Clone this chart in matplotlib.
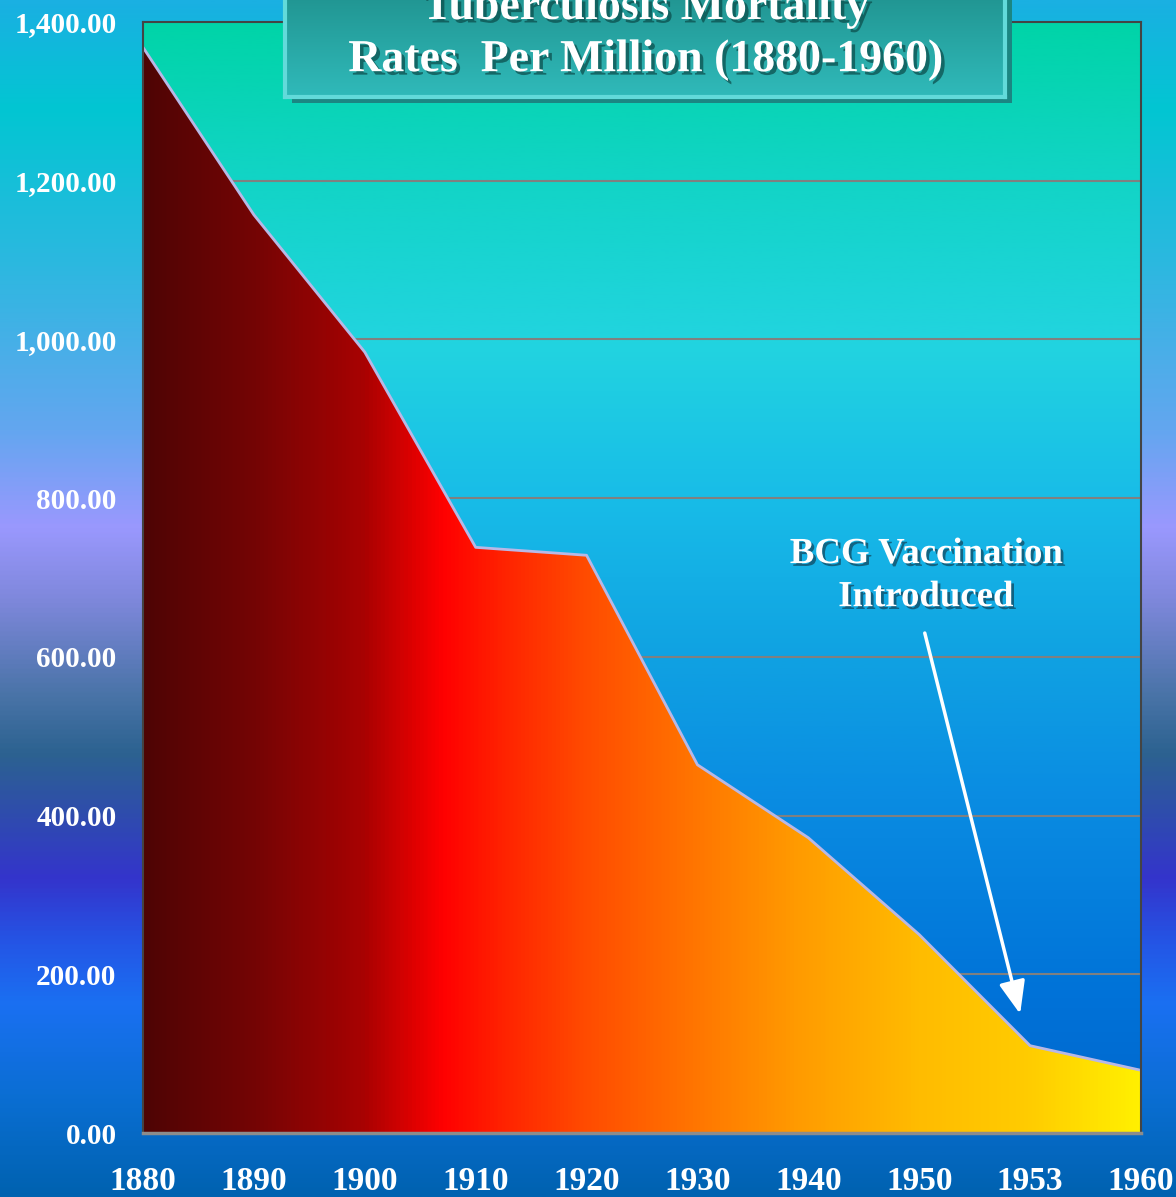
import numpy as np
import matplotlib
matplotlib.use("Agg")
import matplotlib.pyplot as plt
from matplotlib.colors import LinearSegmentedColormap
import matplotlib.patheffects as pe

years = ['1880', '1890', '1900', '1910', '1920', '1930', '1940', '1950', '1953', '1960']
rates = [1368, 1157, 984, 738, 728, 464, 372, 250, 110, 79]
yticks = [0, 200, 400, 600, 800, 1000, 1200, 1400]
title_lines = ["Tuberculosis Mortality", "Rates  Per Million (1880-1960)"]
note = "BCG Vaccination\nIntroduced"

W, H = 1176, 1197
fig = plt.figure(figsize=(W / 100, H / 100), dpi=100)
serif = ['Liberation Serif', 'DejaVu Serif']

# figure background gradient (vertical)
bg = fig.add_axes([0, 0, 1, 1], zorder=-10)
bg.axis('off')
bg_stops = [(0.0, '#1ab0e2'), (0.09, '#02c6d2'), (0.22, '#2cb8e0'), (0.36, '#64a6f0'),
            (0.44, '#9a98fe'), (0.50, '#7f88dc'), (0.58, '#4a74a8'), (0.63, '#2c6290'),
            (0.70, '#3044b8'), (0.735, '#3434cc'), (0.79, '#2456e6'), (0.84, '#1a70f2'),
            (0.92, '#0a6ed2'), (1.0, '#0062b0')]
cm_bg = LinearSegmentedColormap.from_list('bg', bg_stops)
grad = np.linspace(0, 1, 512).reshape(-1, 1)
bg.imshow(grad, aspect='auto', cmap=cm_bg, extent=(0, 1, 0, 1), origin='upper')
bg.set_xlim(0, 1); bg.set_ylim(0, 1)

# main axes
x0, x1 = 143 / W, 1141 / W
y0, y1 = 1 - 1133 / H, 1 - 22 / H
ax = fig.add_axes([x0, y0, x1 - x0, y1 - y0])
xs = np.arange(len(years))
ax.set_xlim(0, len(years) - 1)
ax.set_ylim(0, 1400)

plot_stops = [(0.0, '#00d4a8'), (0.14, '#12d4c6'), (0.29, '#22d4e0'), (0.43, '#18bce8'),
              (0.57, '#10a2e2'), (0.70, '#0a8ce2'), (0.88, '#0072d8'), (1.0, '#0066cc')]
cm_plot = LinearSegmentedColormap.from_list('pl', plot_stops)
ax.imshow(grad, aspect='auto', cmap=cm_plot, extent=(0, len(years) - 1, 0, 1400),
          origin='upper', zorder=0)

for yv in yticks[1:-1]:
    ax.axhline(yv, color='#808080', lw=1.5, zorder=1)

poly = ax.fill_between(xs, rates, 0, color='none', zorder=2)
area_stops = [(0.0, '#4e0404'), (0.11, '#740505'), (0.22, '#a80202'), (0.30, '#ff0000'),
              (0.36, '#ff2200'), (0.44, '#ff4a00'), (0.55, '#ff7400'), (0.66, '#ff9c00'),
              (0.78, '#ffbc00'), (0.89, '#ffcc00'), (1.0, '#fff000')]
cm_area = LinearSegmentedColormap.from_list('ar', area_stops)
hgrad = np.linspace(0, 1, 1024).reshape(1, -1)
im = ax.imshow(hgrad, aspect='auto', cmap=cm_area, extent=(0, len(years) - 1, 0, 1400),
               origin='lower', zorder=2)
im.set_clip_path(poly.get_paths()[0], transform=ax.transData)
ax.plot(xs, rates, color='#b8b8e6', lw=2, zorder=3, solid_joinstyle='round')

ax.set_xticks(xs)
ax.set_xticklabels(years)
ax.set_yticks(yticks)
ax.set_yticklabels([f"{v:,.2f}" for v in yticks])
ax.tick_params(axis='y', length=0, pad=19, labelsize=21, labelcolor='white')
ax.tick_params(axis='x', length=0, pad=24, labelsize=24, labelcolor='white')
for lab in ax.get_xticklabels() + ax.get_yticklabels():
    lab.set_fontfamily(serif)
    lab.set_fontweight('bold')

for s in ['left', 'top', 'right']:
    ax.spines[s].set_color('#444444')
    ax.spines[s].set_linewidth(1.5)
ax.spines['bottom'].set_color('#8c8c8c')
ax.spines['bottom'].set_linewidth(2.5)
for s in ax.spines.values():
    s.set_zorder(5)

shadow = [pe.withSimplePatchShadow(offset=(2, -2), shadow_rgbFace='#103040', alpha=0.6)]

# annotation
ax.text(7.06, 703, note, ha='center', va='center', color='white', fontsize=26.5,
        fontweight='bold', family=serif, linespacing=1.3, zorder=6, path_effects=shadow)
ax.annotate('', xy=(7.91, 150), xytext=(7.05, 630),
            arrowprops=dict(arrowstyle='-|>,head_length=1.0,head_width=0.4', color='white',
                            lw=2.5, shrinkA=0, shrinkB=0, mutation_scale=20), zorder=6)

# title box
bx0, bx1 = 285 / W, 1005 / W
by0, by1 = 1 - 97 / H, 1.02
sh = fig.add_axes([bx0 + 7 / W, by0 - 6 / H, bx1 - bx0, by1 - by0], zorder=8)
sh.set_facecolor('#1b8682')
sh.set_xticks([]); sh.set_yticks([])
for s in sh.spines.values():
    s.set_visible(False)
tb = fig.add_axes([bx0, by0, bx1 - bx0, by1 - by0], zorder=9)
cm_tb = LinearSegmentedColormap.from_list('tb', ['#1e8e8a', '#30baba'])
tb.imshow(grad, aspect='auto', cmap=cm_tb, extent=(0, 1, 0, 1), origin='upper')
tb.set_xlim(0, 1); tb.set_ylim(0, 1)
tb.set_xticks([]); tb.set_yticks([])
for s in tb.spines.values():
    s.set_color('#62dada')
    s.set_linewidth(3)
tshadow = [pe.withSimplePatchShadow(offset=(2.5, -2.5), shadow_rgbFace='#0a4a48', alpha=0.7)]
for line, ypx in zip(title_lines, [8, 60]):
    fig.text(646 / W, 1 - ypx / H, line, ha='center', va='center', color='white',
             fontsize=33, fontweight='bold', family=serif, zorder=10, path_effects=tshadow)

fig.savefig('out.png', dpi=100)
